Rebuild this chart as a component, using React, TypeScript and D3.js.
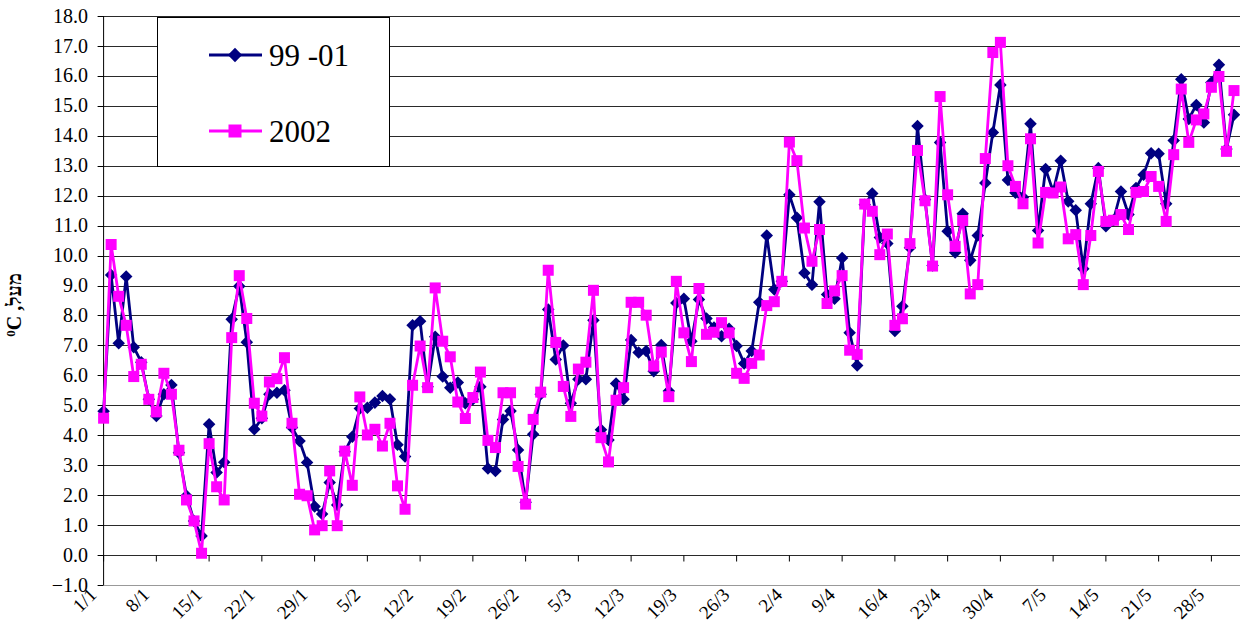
import React from "react";
import * as d3 from "d3";

// daily mean temperature, 1/1 .. 31/5 (one value per day)
const series9901 = [
  4.8, 9.35, 7.07, 9.3, 6.94, 6.44, 5.2, 4.64, 5.37, 5.68,
  3.42, 1.98, 1.14, 0.64, 4.37, 2.76, 3.1, 7.87, 8.98, 7.11,
  4.2, 4.57, 5.37, 5.42, 5.5, 4.26, 3.81, 3.09, 1.62, 1.37,
  2.42, 1.67, 3.45, 3.95, 4.89, 4.92, 5.09, 5.31, 5.2, 3.68,
  3.29, 7.67, 7.81, 5.62, 7.29, 5.96, 5.59, 5.76, 5.07, 5.2,
  5.62, 2.89, 2.81, 4.53, 4.81, 3.51, 1.76, 4.03, 5.37, 8.2,
  6.53, 7.0, 5.07, 5.87, 5.87, 7.84, 4.18, 3.84, 5.73, 5.2,
  7.18, 6.76, 6.81, 6.14, 7.01, 5.48, 8.42, 8.56, 7.14, 8.53,
  7.9, 7.6, 7.31, 7.56, 6.98, 6.4, 6.81, 8.44, 10.67, 8.87,
  9.14, 12.03, 11.26, 9.42, 9.03, 11.8, 8.7, 8.56, 9.92, 7.42,
  6.33, 11.7, 12.07, 10.6, 10.4, 7.48, 8.31, 10.26, 14.33, 11.87,
  9.67, 13.78, 10.81, 10.1, 11.4, 9.84, 10.67, 12.42, 14.11, 15.7,
  12.52, 12.1, 11.95, 14.4, 10.84, 12.89, 12.14, 13.17, 11.81, 11.51,
  9.56, 11.73, 12.92, 10.98, 11.18, 12.14, 11.37, 12.26, 12.7, 13.42,
  13.4, 11.73, 13.84, 15.89, 14.56, 15.03, 14.44, 15.78, 16.37, 13.56,
  14.7,
];

const series2002 = [
  4.57, 10.37, 8.64, 7.67, 5.96, 6.37, 5.2, 4.78, 6.07, 5.37,
  3.5, 1.84, 1.14, 0.06, 3.72, 2.28, 1.84, 7.26, 9.33, 7.9,
  5.07, 4.64, 5.78, 5.89, 6.59, 4.4, 2.03, 1.98, 0.84, 0.98,
  2.81, 0.98, 3.47, 2.33, 5.28, 4.01, 4.2, 3.64, 4.4, 2.31,
  1.53, 5.67, 6.98, 5.59, 8.92, 7.14, 6.62, 5.11, 4.56, 5.26,
  6.11, 3.83, 3.59, 5.42, 5.42, 2.96, 1.7, 4.53, 5.44, 9.51,
  7.1, 5.63, 4.63, 6.21, 6.44, 8.84, 3.92, 3.11, 5.17, 5.59,
  8.44, 8.44, 8.01, 6.31, 6.78, 5.29, 9.14, 7.42, 6.46, 8.9,
  7.37, 7.44, 7.76, 7.42, 6.07, 5.9, 6.4, 6.68, 8.33, 8.46,
  9.14, 13.79, 13.17, 10.92, 9.81, 10.87, 8.4, 8.82, 9.33, 6.84,
  6.7, 11.72, 11.48, 10.03, 10.72, 7.67, 7.89, 10.4, 13.51, 11.83,
  9.65, 15.31, 12.03, 10.31, 11.17, 8.72, 9.03, 13.24, 16.78, 17.12,
  13.0, 12.31, 11.73, 13.9, 10.42, 12.11, 12.09, 12.29, 10.56, 10.7,
  9.03, 10.67, 12.81, 11.14, 11.18, 11.37, 10.87, 12.11, 12.14, 12.64,
  12.31, 11.14, 13.37, 15.56, 13.78, 14.53, 14.73, 15.62, 15.98, 13.48,
  15.51,
];

const tickLabels = [
  "1/1", "8/1", "15/1", "22/1", "29/1", "5/2", "12/2", "19/2", "26/2", "5/3", "12/3",
  "19/3", "26/3", "2/4", "9/4", "16/4", "23/4", "30/4", "7/5", "14/5", "21/5", "28/5",
];
const seriesNames = ["99 -01", "2002"];

const W = 1240;
const H = 630;
const NAVY = "#000080";
const MAGENTA = "#ff00ff";
const serif = { fontFamily: "'Liberation Serif'" };

const left = 103.6;
const x = d3.scaleLinear().domain([0, series9901.length - 1]).range([left, left + 7.536 * 150]);
const y = d3.scaleLinear().domain([-1, 18]).range([585, 16]);
const yTicks = d3.range(-1, 19);
const tickDays = tickLabels.map((_, i) => i * 7);
const fmt = d3.format(".1f");
const crisp = (v: number) => Math.round(v) + 0.5;

const line = d3
  .line<number>()
  .x((_, i) => x(i))
  .y((d) => y(d));
const diamond = d3.symbol().type(d3.symbolDiamond2).size(100)() as string;
const legendDiamond = d3.symbol().type(d3.symbolDiamond2).size(130)() as string;
const sq = 11;

export default function App() {
  return (
    <svg width={W} height={H} style={{ position: "absolute", left: 0, top: 0, background: "#fff" }}>
      {/* gridlines */}
      {yTicks
        .filter((t) => t >= 0)
        .map((t) => (
          <line key={t} x1={left} x2={W} y1={crisp(y(t))} y2={crisp(y(t))} stroke="#2a2a2a" strokeWidth={1} />
        ))}
      <line x1={left} x2={W} y1={crisp(y(-1))} y2={crisp(y(-1))} stroke="#999" strokeWidth={1.2} />

      {/* value axis */}
      <line x1={left} x2={left} y1={y(18)} y2={y(-1)} stroke="#000" strokeWidth={1} />
      {yTicks.map((t) => (
        <g key={t}>
          <line x1={left - 6} x2={left} y1={crisp(y(t))} y2={crisp(y(t))} stroke="#000" />
          <text x={88} y={y(t)} dy="0.33em" textAnchor="end" fontSize={20} fill="#000" style={serif}>
            {fmt(t)}
          </text>
        </g>
      ))}

      {/* category ticks hang from the 0 line */}
      {tickDays.map((d) => (
        <line key={d} x1={x(d)} x2={x(d)} y1={crisp(y(0))} y2={crisp(y(0)) + 6} stroke="#000" />
      ))}
      {tickLabels.map((lab, i) => (
        <text
          key={lab}
          transform={`translate(${x(tickDays[i]) - 6},596) rotate(-45)`}
          textAnchor="end"
          fontSize={19}
          fill="#000"
          style={serif}
        >
          {lab}
        </text>
      ))}

      {/* y axis title */}
      <text
        transform="translate(21,305) rotate(-90)"
        textAnchor="middle"
        fontSize={20}
        fontWeight="bold"
        fill="#000"
        style={serif}
      >
        <tspan fontSize={13} dy={-6}>0</tspan>
        <tspan dy={6}>C ,מעל</tspan>
      </text>

      {/* 99-01 */}
      <path d={line(series9901) ?? ""} fill="none" stroke={NAVY} strokeWidth={2.8} strokeLinejoin="round" />
      {series9901.map((v, i) => (
        <path key={i} d={diamond} transform={`translate(${x(i)},${y(v)})`} fill={NAVY} />
      ))}

      {/* 2002 */}
      <path d={line(series2002) ?? ""} fill="none" stroke={MAGENTA} strokeWidth={2.8} strokeLinejoin="round" />
      {series2002.map((v, i) => (
        <rect key={i} x={x(i) - sq / 2} y={y(v) - sq / 2} width={sq} height={sq} fill={MAGENTA} />
      ))}

      {/* legend */}
      <rect x={157.5} y={17.5} width={232} height={149} fill="#fff" stroke="#000" strokeWidth={1} />
      <line x1={209} x2={262} y1={55} y2={55} stroke={NAVY} strokeWidth={2.8} />
      <path d={legendDiamond} transform="translate(235,55)" fill={NAVY} />
      <text x={269} y={55} dy="0.35em" fontSize={31} fill="#000" style={serif}>
        {seriesNames[0]}
      </text>
      <line x1={209} x2={262} y1={131} y2={131} stroke={MAGENTA} strokeWidth={2.8} />
      <rect x={228.5} y={124.5} width={13} height={13} fill={MAGENTA} />
      <text x={269} y={131} dy="0.35em" fontSize={31} fill="#000" style={serif}>
        {seriesNames[1]}
      </text>
    </svg>
  );
}
